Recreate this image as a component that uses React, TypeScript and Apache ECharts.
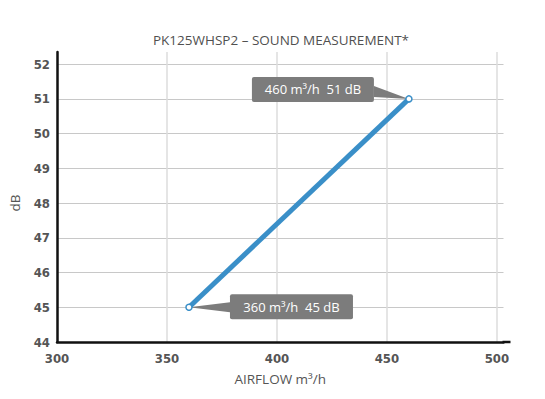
import React, { useEffect, useRef } from "react";
import * as echarts from "echarts";

// ---- data ----
const AIRFLOW_M3H = [360, 460];
const SOUND_DB = [45, 51];
const TITLE = "PK125WHSP2 – SOUND MEASUREMENT*";
const X_NAME = "AIRFLOW m³/h";
const Y_NAME = "dB";
const X_MIN = 300;
const X_MAX = 503;
const X_INTERVAL = 50;
const Y_MIN = 44;
const Y_MAX = 52.35;
const Y_INTERVAL = 1;

const BLUE = "#3a8fc8";
const LABEL_GREY = "#555555";
const BOX_GREY = "#7c7c7c";

// callout layout (pixel offsets from the point), by data index
const CALLOUT_LAYOUT = [
  { bx: 41, by: -13, bw: 123, bh: 25, wx: 41, wy0: -5, wy1: 5 },
  { bx: -157, by: -22, bw: 122, bh: 25, wx: -35, wy0: -13, wy1: -2 },
];

export default function App() {
  const ref = useRef<HTMLDivElement>(null);
  useEffect(() => {
    if (!ref.current) return;
    const chart = echarts.init(ref.current, undefined, { renderer: "svg" });
    const points = AIRFLOW_M3H.map((x, i) => [x, SOUND_DB[i]]);
    chart.setOption({
      animation: false,
      backgroundColor: "#ffffff",
      title: {
        text: TITLE,
        left: 281,
        textAlign: "center",
        top: 33,
        padding: 0,
        textStyle: {
          fontFamily: "Open Sans",
          fontSize: 13.5,
          fontWeight: "normal",
          color: "#505050",
        },
      },
      grid: { left: 56.5, right: 41.5, top: 52, bottom: 57, containLabel: false },
      xAxis: {
        type: "value",
        min: X_MIN,
        max: X_MAX,
        interval: X_INTERVAL,
        name: X_NAME,
        nameLocation: "middle",
        nameGap: 30,
        nameTextStyle: { fontFamily: "Open Sans", fontSize: 13.5, color: LABEL_GREY },
        axisLine: { show: true, onZero: false, lineStyle: { color: "#111", width: 2.5 } },
        axisTick: { show: false },
        axisLabel: {
          showMaxLabel: false,
          margin: 10,
          fontFamily: "DejaVu Sans Condensed",
          fontWeight: "bold",
          fontSize: 13,
          color: LABEL_GREY,
        },
        splitLine: {
          show: true,
          showMaxLine: false,
          showMinLine: false,
          lineStyle: { color: "#dcdcdc", width: 1.5 },
        },
      },
      yAxis: {
        type: "value",
        min: Y_MIN,
        max: Y_MAX,
        interval: Y_INTERVAL,
        name: Y_NAME,
        nameLocation: "middle",
        nameGap: 35,
        nameRotate: 90,
        nameTextStyle: { fontFamily: "Open Sans", fontSize: 13.5, color: LABEL_GREY, padding: [0, 12, 0, 0] },
        axisLine: { show: true, onZero: false, lineStyle: { color: "#111", width: 2.5 } },
        axisTick: { show: false },
        axisLabel: {
          showMaxLabel: false,
          margin: 7,
          fontFamily: "DejaVu Sans Condensed",
          fontWeight: "bold",
          fontSize: 13,
          color: LABEL_GREY,
        },
        splitLine: {
          show: true,
          showMaxLine: false,
          showMinLine: false,
          lineStyle: { color: "#c8c8c8", width: 1 },
        },
      },
      series: [
        {
          type: "custom",
          z: 1,
          data: points,
          renderItem: (params: any, api: any) => {
            const x = api.value(0);
            const y = api.value(1);
            const p = api.coord([x, y]);
            const L = CALLOUT_LAYOUT[params.dataIndex];
            return {
              type: "group",
              children: [
                {
                  type: "polygon",
                  shape: {
                    points: [
                      [p[0], p[1]],
                      [p[0] + L.wx, p[1] + L.wy0],
                      [p[0] + L.wx, p[1] + L.wy1],
                    ],
                  },
                  style: { fill: BOX_GREY },
                },
                {
                  type: "rect",
                  shape: { x: p[0] + L.bx, y: p[1] + L.by, width: L.bw, height: L.bh, r: 2 },
                  style: { fill: BOX_GREY },
                },
                {
                  type: "text",
                  x: p[0] + L.bx + L.bw / 2,
                  y: p[1] + L.by + L.bh / 2,
                  style: {
                    text: `${x} m³/h  ${y} dB`,
                    fill: "#ffffff",
                    fontFamily: "Open Sans",
                    fontSize: 13,
                    align: "center",
                    verticalAlign: "middle",
                  },
                },
              ],
            };
          },
        },
        {
          type: "line",
          z: 3,
          data: points,
          lineStyle: { color: BLUE, width: 5 },
          symbol: "circle",
          symbolSize: 6,
          showAllSymbol: true,
          itemStyle: { color: "#ffffff", borderColor: BLUE, borderWidth: 1.5 },
        },
      ],
    });
    // extend the x axis line a little beyond the grid, as in the reference
    const end = chart.convertToPixel({ gridIndex: 0 }, [X_MAX, Y_MIN]) as number[];
    chart.setOption({
      graphic: [
        {
          type: "line",
          shape: { x1: end[0] - 1, y1: end[1], x2: end[0] + 7, y2: end[1] },
          style: { stroke: "#111", lineWidth: 2.5 },
        },
      ],
    });
    return () => chart.dispose();
  }, []);
  return <div ref={ref} style={{ width: 545, height: 399, margin: -8 }} />;
}
